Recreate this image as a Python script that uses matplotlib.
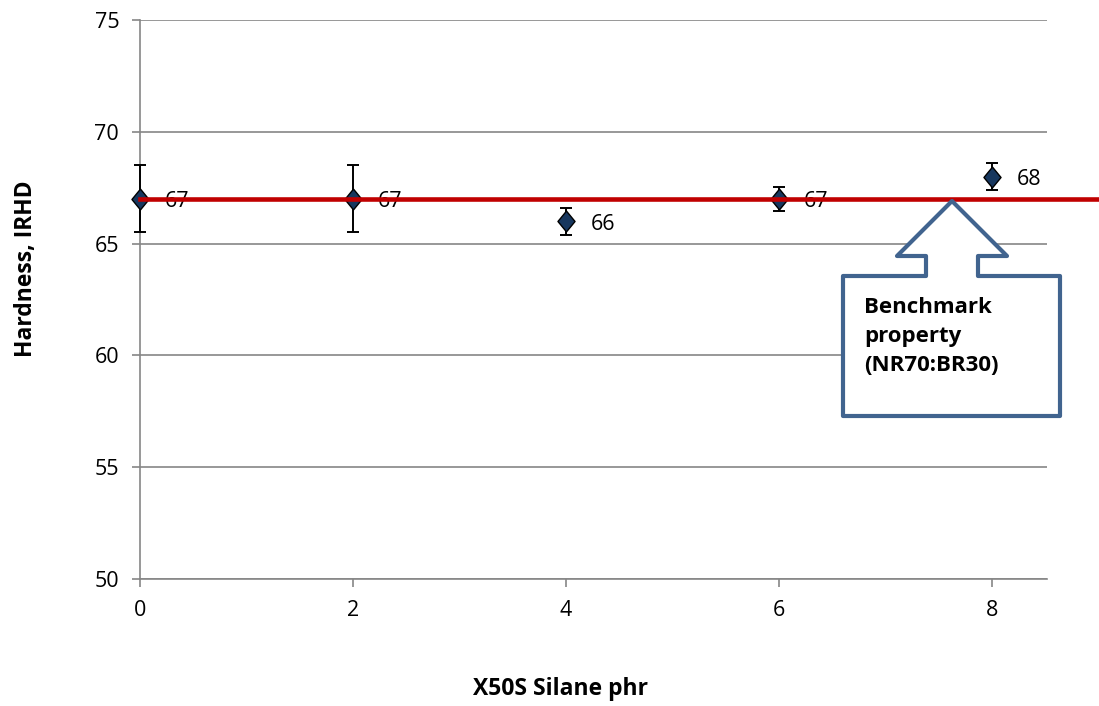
import matplotlib
matplotlib.use("Agg")
import matplotlib.pyplot as plt
from matplotlib.patches import Polygon
from matplotlib.transforms import blended_transform_factory

# data
silane_phr = [0, 2, 4, 6, 8]
hardness = [67, 67, 66, 67, 68]
hardness_err = [1.5, 1.5, 0.6, 0.55, 0.6]
point_labels = ["67", "67", "66", "67", "68"]
benchmark = 67
callout_text = "Benchmark\nproperty\n(NR70:BR30)"

W, H = 1099, 706
plt.rcParams["font.family"] = ["Open Sans", "DejaVu Sans"]

fig = plt.figure(figsize=(W / 100, H / 100), dpi=100)
ax = fig.add_axes([140 / W, 1 - 579 / H, 907 / W, 559 / H])

grey = "#868686"
ax.set_xlim(0, 8.52)
ax.set_ylim(50, 75)
ax.set_xticks([0, 2, 4, 6, 8])
ax.set_yticks([50, 55, 60, 65, 70, 75])
ax.yaxis.grid(True, color=grey, lw=1.2)
ax.set_axisbelow(True)
for s in ("top", "right"):
    ax.spines[s].set_visible(False)
for s in ("left", "bottom"):
    ax.spines[s].set_color(grey)
    ax.spines[s].set_linewidth(1.2)
ax.tick_params(axis="both", direction="out", length=6, color=grey, width=1.2,
               labelsize=15.5, pad=9)

# slightly tall diamond, like the Excel marker
diamond = [(0, 1), (0.82, 0), (0, -1), (-0.82, 0), (0, 1)]
ax.errorbar(silane_phr, hardness, yerr=hardness_err, fmt="none",
            ecolor="black", elinewidth=1.4, capsize=4.5, capthick=1.4,
            zorder=3, clip_on=False)
ax.plot(silane_phr, hardness, ls="none", marker=diamond, ms=15,
        mfc="#17375E", mec="black", mew=1, zorder=3, clip_on=False)

for x, y, t in zip(silane_phr, hardness, point_labels):
    ax.annotate(t, (x, y), xytext=(18, -2), textcoords="offset points",
                va="center", ha="left", fontsize=15.5, zorder=4)

# red benchmark line runs past the plot area to the figure edge
bt = blended_transform_factory(fig.transFigure, ax.transData)
ax.plot([140 / W, 1.0], [benchmark, benchmark], color="#C00000", lw=3.3,
        transform=bt, clip_on=False, zorder=5)

# up-arrow callout (positions in figure pixels, y from top)
pts_px = [(952, 201), (1007, 256), (978, 256), (978, 276), (1060, 276),
          (1060, 416), (843, 416), (843, 276), (926, 276), (926, 256),
          (897, 256)]
pts = [(x / W, 1 - y / H) for x, y in pts_px]
fig.patches.append(Polygon(pts, closed=True, facecolor="white",
                           edgecolor="#41648F", lw=3, joinstyle="round",
                           transform=fig.transFigure, zorder=6))
fig.text(864 / W, 1 - 297 / H, callout_text, ha="left", va="top",
         fontsize=16, fontweight="bold", linespacing=1.5, zorder=7)

ax.set_xlabel("X50S Silane phr", fontsize=16.5, fontweight="bold")
ax.set_ylabel("Hardness, IRHD", fontsize=16.5, fontweight="bold")
ax.xaxis.set_label_coords(0.464, -0.175)
ax.yaxis.set_label_coords(-0.112, 0.556)

fig.savefig("out.png", dpi=100)
